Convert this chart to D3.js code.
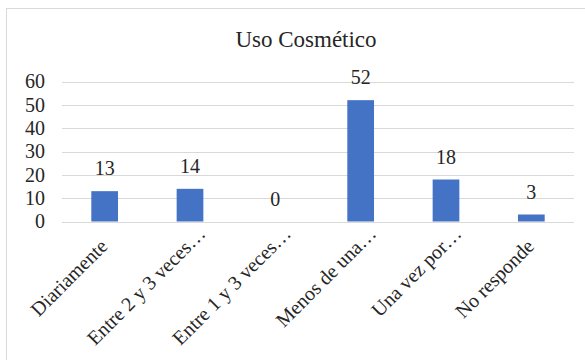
<!DOCTYPE html>
<html>
<head>
<meta charset="utf-8">
<script src="https://cdn.jsdelivr.net/npm/d3@7"></script>
<style>
  body { margin: 0; background: #fff; }
</style>
</head>
<body>
<svg id="chart" width="585" height="360" font-family="Liberation Serif"></svg>
<script>
const categories = ["Diariamente", "Entre 2 y 3 veces…", "Entre 1 y 3 veces…", "Menos de una…", "Una vez por…", "No responde"];
const values = [13, 14, 0, 52, 18, 3];
const yTicks = [0, 10, 20, 30, 40, 50, 60];
const title = "Uso Cosmético";

const w = 585;
const h = 360;
const margin = { left: 62, right: 11, top: 81.5, bottom: 138.5 };
const textColor = "#262626";
const serif = "Liberation Serif";

const svg = d3.select("#chart");

// chart frame (right/bottom edges fall outside the picture)
svg.append("rect")
  .attr("x", 6.5).attr("y", 8.5)
  .attr("width", 700).attr("height", 500)
  .attr("fill", "none")
  .attr("stroke", "#d9d9d9");

svg.append("text")
  .attr("x", 306).attr("y", 47)
  .attr("text-anchor", "middle")
  .attr("font-family", serif)
  .attr("font-size", 23)
  .attr("fill", textColor)
  .text(title);

const xScale = d3.scaleBand()
  .domain(categories)
  .range([margin.left, w - margin.right])
  .paddingInner(0.687)
  .paddingOuter(0.3435);

const yScale = d3.scaleLinear()
  .domain([0, 60])
  .range([h - margin.bottom, margin.top]);

// gridlines
svg.append("g")
  .selectAll("line")
  .data(yTicks)
  .enter()
  .append("line")
  .attr("x1", margin.left)
  .attr("x2", w - margin.right)
  .attr("y1", d => Math.round(yScale(d)) + 0.5)
  .attr("y2", d => Math.round(yScale(d)) + 0.5)
  .attr("stroke", "#d9d9d9")
  .attr("stroke-width", 1);

// y axis labels
const yAxis = d3.axisLeft(yScale).tickValues(yTicks).tickSize(0).tickPadding(17);
const yg = svg.append("g")
  .attr("transform", `translate(${margin.left}, 0)`)
  .call(yAxis)
  .attr("font-family", serif)
  .attr("font-size", 20);
yg.select(".domain").remove();
yg.selectAll("text").attr("fill", textColor);

// bars
svg.selectAll("rect.bar")
  .data(values)
  .enter()
  .append("rect")
  .attr("class", "bar")
  .attr("x", (d, i) => xScale(categories[i]))
  .attr("y", d => yScale(d))
  .attr("width", xScale.bandwidth())
  .attr("height", d => yScale(0) - yScale(d))
  .attr("fill", "#4472c4");

// value labels
svg.selectAll("text.val")
  .data(values)
  .enter()
  .append("text")
  .attr("class", "val")
  .attr("x", (d, i) => xScale(categories[i]) + xScale.bandwidth() / 2)
  .attr("y", d => yScale(d) - 16)
  .attr("text-anchor", "middle")
  .attr("font-family", serif)
  .attr("font-size", 20)
  .attr("fill", textColor)
  .text(d => d);

// x axis
const xAxis = d3.axisBottom(xScale).tickSize(0).tickPadding(0);
const xg = svg.append("g")
  .attr("transform", `translate(${xScale.bandwidth() / 2 * 0}, ${yScale(0)})`)
  .call(xAxis)
  .attr("font-family", serif)
  .attr("font-size", 20);
xg.select(".domain").remove();
xg.selectAll("text")
  .attr("fill", textColor)
  .attr("text-anchor", "end")
  .attr("y", 0)
  .attr("dy", 0)
  .attr("dx", d => d.endsWith("…") ? 18 : 0)
  .attr("transform", "translate(4, 26) rotate(-45)");
</script>
</body>
</html>
